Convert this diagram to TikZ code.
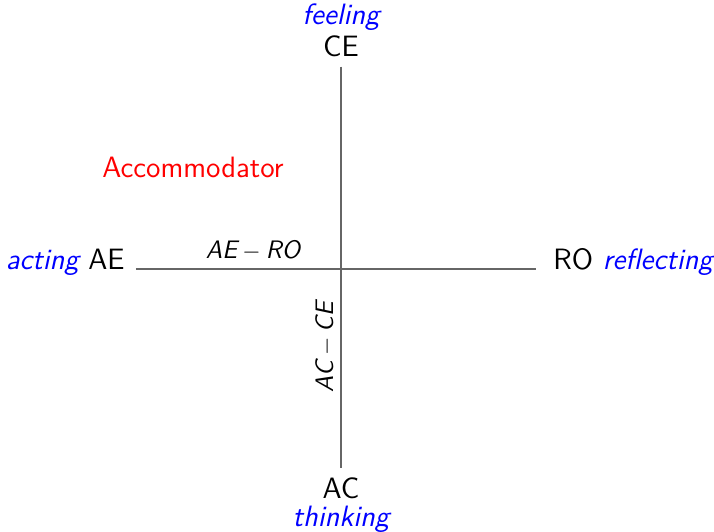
\documentclass[tikz,border=0pt]{standalone}
\usepackage{tikz}
\usetikzlibrary{positioning}
\renewcommand{\familydefault}{\sfdefault}
\tikzset{
  axis/.style={draw=black!60,line width=0.6pt},
  pole/.style={font=\fontsize{15}{17}\selectfont,inner sep=0pt},
  mode/.style={font=\fontsize{15}{17}\selectfont\itshape,text=blue,inner sep=0pt},
  diff/.style={font=\fontsize{12.9}{15}\selectfont\itshape,inner sep=0pt}
}

\begin{document}
\begin{tikzpicture}[x=0.1792mm,y=-0.1792mm]
  \useasboundingbox (0,0) rectangle (714,532);
  % the four poles
  \node[pole,anchor=base] (ce) at (341,57) {CE};
  \node[mode,anchor=base] (feel) at (341,25) {feeling};
  \node[pole,anchor=base] (ac) at (341,498) {AC};
  \node[mode,anchor=base] (think) at (341,526.5) {thinking};
  \node[pole,anchor=base east] (ae) at (125,269) {\textcolor{blue}{\itshape acting} AE};
  \node[pole,anchor=base west] (ro) at (553,269) {RO \textcolor{blue}{\itshape reflecting}};
  % axes
  \draw[axis,shorten <=4.6pt,shorten >=4.6pt] (ce) -- (ac);
  \draw[axis,shorten <=5.5pt,shorten >=8.8pt] (ae.base east) -- (ro.base west);
  \node[diff,anchor=base] (aero) at (253,259) {\textit{AE}${}-{}$\textit{RO}};
  \node[diff,anchor=base,rotate=90] (acce) at (333,347) {\textit{AC}${}-{}$\textit{CE}};
  \node[pole,text=red,anchor=base] (acc) at (193,178) {Accommodator};
\end{tikzpicture}
\end{document}
